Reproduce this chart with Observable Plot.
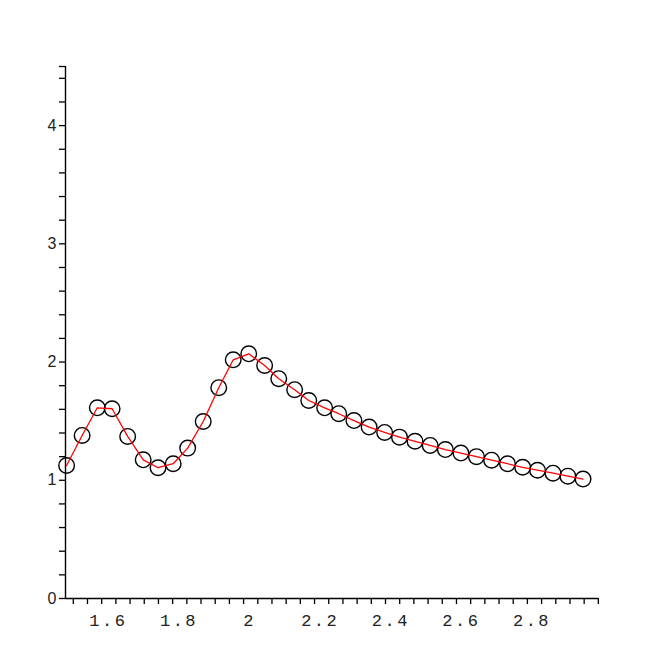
<!DOCTYPE html>
<html><head><meta charset="utf-8">
<script src="https://cdn.jsdelivr.net/npm/d3@7"></script>
<script src="https://cdn.jsdelivr.net/npm/@observablehq/plot@0.6"></script>
<style>
body{margin:0;background:#fff}
g[aria-label="x-axis tick label"] text{letter-spacing:2.5px}
</style>
</head><body><div id="chart"></div>
<script>
const xs = [1.485, 1.529, 1.572, 1.614, 1.658, 1.702, 1.744, 1.787, 1.828, 1.872,
            1.916, 1.957, 2.001, 2.046, 2.086, 2.131, 2.171, 2.216, 2.256, 2.299,
            2.342, 2.386, 2.428, 2.472, 2.515, 2.558, 2.602, 2.646, 2.689, 2.734,
            2.777, 2.819, 2.863, 2.905, 2.948];
const ys = [1.125, 1.379, 1.613, 1.605, 1.371, 1.173, 1.106, 1.140, 1.272, 1.497,
            1.783, 2.019, 2.070, 1.971, 1.859, 1.766, 1.675, 1.613, 1.563, 1.505,
            1.450, 1.405, 1.365, 1.330, 1.295, 1.260, 1.230, 1.200, 1.170, 1.140,
            1.110, 1.085, 1.060, 1.035, 1.010];
const xLabelTicks = [1.6, 1.8, 2, 2.2, 2.4, 2.6, 2.8];
const yLabelTicks = [0, 1, 2, 3, 4];
const xDomain = [1.4819, 2.9918];
const yDomain = [0, 4.5];
const xMinorTicks = d3.range(38).map(k => 1.504 + 0.0402 * k);
const yMinorTicks = d3.range(23).map(k => +(k * 0.2).toFixed(1)).concat([4.5]);

const data = xs.map((x, i) => ({x, y: ys[i]}));

const chart = Plot.plot({
  width: 664, height: 664,
  marginLeft: 65, marginRight: 66, marginTop: 66, marginBottom: 66,
  x: {domain: xDomain},
  y: {domain: yDomain},
  style: {background: "#fff", color: "#000"},
  marks: [
    Plot.ruleY([yDomain[0]], {stroke: "#000", strokeWidth: 1.4}),
    Plot.ruleX([xDomain[0]], {stroke: "#000", strokeWidth: 1.4}),
    Plot.axisX({ticks: xMinorTicks, tickSize: 6, tickFormat: () => "", label: null, strokeWidth: 1.3}),
    Plot.axisX({ticks: xLabelTicks, tickSize: 0, tickPadding: 15, label: null, dx: 1.2,
                fontFamily: "Liberation Mono", fontSize: 17, fill: "#222", tickFormat: d => String(d)}),
    Plot.axisY({ticks: yMinorTicks, tickSize: 6, tickFormat: () => "", label: null, strokeWidth: 1.3}),
    Plot.axisY({ticks: yLabelTicks, tickSize: 0, tickPadding: 9, label: null,
                fontFamily: "Liberation Sans", fontSize: 16, fill: "#222", tickFormat: d => String(d)}),
    Plot.dot(data, {x: "x", y: "y", r: 7.8, stroke: "#000", strokeWidth: 1.4, fill: "none"}),
    Plot.line(data, {x: "x", y: "y", stroke: "#ff0000", strokeWidth: 1.3})
  ]
});
document.getElementById("chart").appendChild(chart);
</script>
</body></html>
